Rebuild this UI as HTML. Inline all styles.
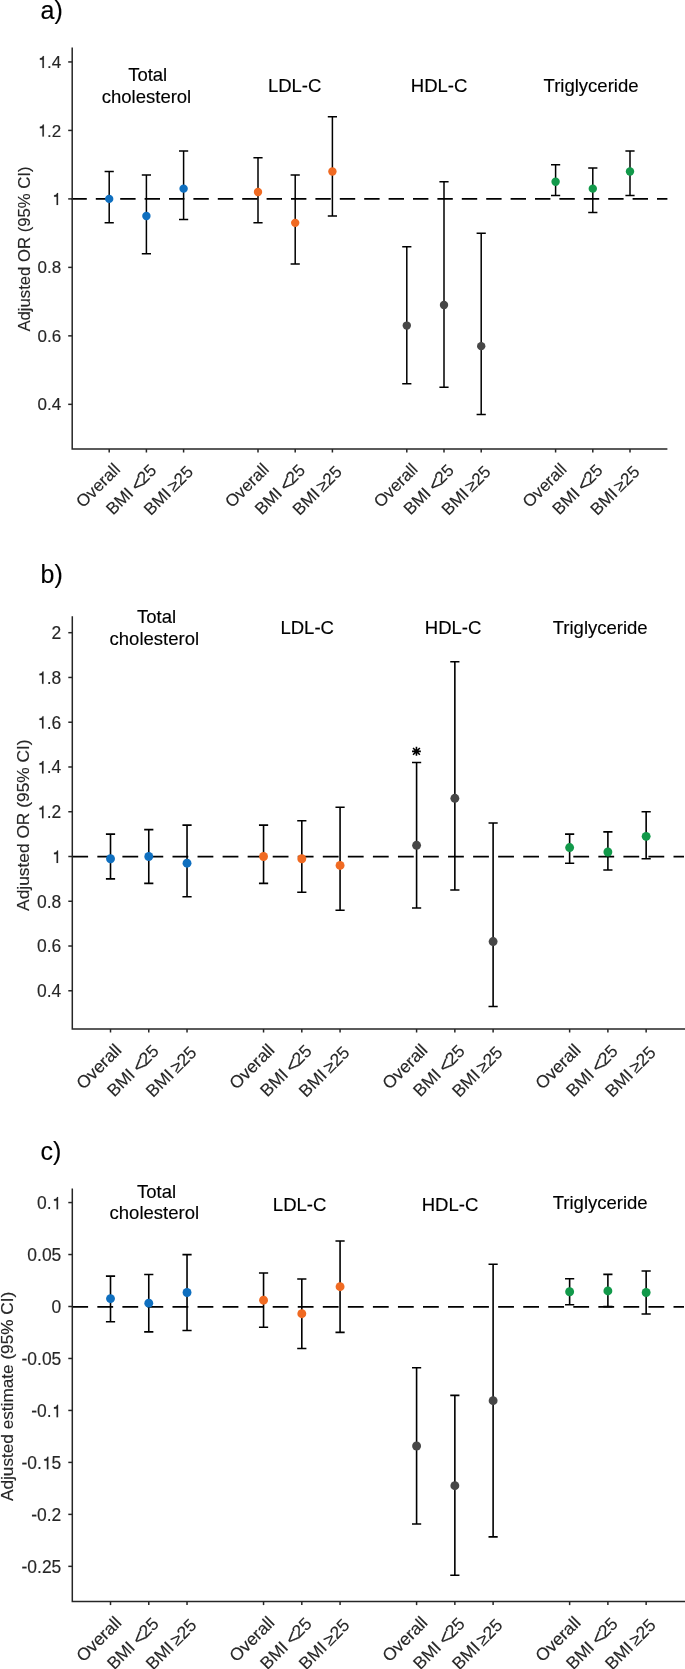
<!DOCTYPE html>
<html><head><meta charset="utf-8"><style>
html,body{margin:0;padding:0;background:#fff;}
body{width:685px;height:1669px;overflow:hidden;}
svg{display:block;will-change:transform;}
text{font-family:"Liberation Sans", sans-serif;}
.tl{font-size:17px;fill:#262626;stroke:#262626;stroke-width:0.15px;font-kerning:none;}
.xl{font-size:17px;fill:#262626;stroke:#262626;stroke-width:0.15px;}
.gl{font-size:18.5px;fill:#000;stroke:#000;stroke-width:0.15px;}
.yl{font-size:16.7px;fill:#262626;stroke:#262626;stroke-width:0.15px;}
.let{font-size:25px;fill:#000;stroke:#000;stroke-width:0.15px;}
</style></head><body>
<svg width="685" height="1669" viewBox="0 0 685 1669">
<line x1="71.4" y1="198.90" x2="667.4" y2="198.90" stroke="#000" stroke-width="1.75" stroke-dasharray="15.4 9.0"/>
<path d="M72.2 47.4 V449 H667.4" fill="none" stroke="#262626" stroke-width="1.5"/>
<line x1="68.2" y1="404.34" x2="72.2" y2="404.34" stroke="#262626" stroke-width="1.5"/>
<text x="61.2" y="410.44" text-anchor="end" class="tl" style="font-size:17px">0.4</text>
<line x1="68.2" y1="335.86" x2="72.2" y2="335.86" stroke="#262626" stroke-width="1.5"/>
<text x="61.2" y="341.96" text-anchor="end" class="tl" style="font-size:17px">0.6</text>
<line x1="68.2" y1="267.38" x2="72.2" y2="267.38" stroke="#262626" stroke-width="1.5"/>
<text x="61.2" y="273.48" text-anchor="end" class="tl" style="font-size:17px">0.8</text>
<line x1="68.2" y1="198.90" x2="72.2" y2="198.90" stroke="#262626" stroke-width="1.5"/>
<path transform="translate(51.75,205.00) scale(0.01700,-0.01700)" d="M372 0L372 709L313 709C300 655 275 622 240 604C210 590 175 583 135 580L135 490L284 490L284 0Z" fill="#262626" stroke="#262626" stroke-width="0.15" vector-effect="non-scaling-stroke"/>
<text x="61.2" y="205.00" text-anchor="end" class="tl" style="font-size:17px"><tspan style="fill:none;stroke:none">1</tspan></text>
<line x1="68.2" y1="130.42" x2="72.2" y2="130.42" stroke="#262626" stroke-width="1.5"/>
<path transform="translate(37.57,136.52) scale(0.01700,-0.01700)" d="M372 0L372 709L313 709C300 655 275 622 240 604C210 590 175 583 135 580L135 490L284 490L284 0Z" fill="#262626" stroke="#262626" stroke-width="0.15" vector-effect="non-scaling-stroke"/>
<text x="61.2" y="136.52" text-anchor="end" class="tl" style="font-size:17px"><tspan style="fill:none;stroke:none">1</tspan>.2</text>
<line x1="68.2" y1="61.94" x2="72.2" y2="61.94" stroke="#262626" stroke-width="1.5"/>
<path transform="translate(37.57,68.04) scale(0.01700,-0.01700)" d="M372 0L372 709L313 709C300 655 275 622 240 604C210 590 175 583 135 580L135 490L284 490L284 0Z" fill="#262626" stroke="#262626" stroke-width="0.15" vector-effect="non-scaling-stroke"/>
<text x="61.2" y="68.04" text-anchor="end" class="tl" style="font-size:17px"><tspan style="fill:none;stroke:none">1</tspan>.4</text>
<line x1="109.20" y1="449" x2="109.20" y2="452.5" stroke="#262626" stroke-width="1.5"/>
<text transform="translate(121.20,470.40) rotate(-45)" text-anchor="end" class="xl" style="font-size:17px">Overall</text>
<line x1="146.40" y1="449" x2="146.40" y2="452.5" stroke="#262626" stroke-width="1.5"/>
<text transform="translate(157.40,471.40) rotate(-45)" text-anchor="end" class="xl" style="font-size:17px">BMI <tspan dx="-0.91" dy="1.6" style="font-size:1.147em">&lt;</tspan><tspan dx="-1.49" dy="-1.6">25</tspan></text>
<line x1="183.60" y1="449" x2="183.60" y2="452.5" stroke="#262626" stroke-width="1.5"/>
<text transform="translate(194.20,472.80) rotate(-45)" text-anchor="end" class="xl" style="font-size:17px">BMI <tspan dx="-1.8">≥</tspan>25</text>
<line x1="258.00" y1="449" x2="258.00" y2="452.5" stroke="#262626" stroke-width="1.5"/>
<text transform="translate(270.00,470.40) rotate(-45)" text-anchor="end" class="xl" style="font-size:17px">Overall</text>
<line x1="295.20" y1="449" x2="295.20" y2="452.5" stroke="#262626" stroke-width="1.5"/>
<text transform="translate(306.20,471.40) rotate(-45)" text-anchor="end" class="xl" style="font-size:17px">BMI <tspan dx="-0.91" dy="1.6" style="font-size:1.147em">&lt;</tspan><tspan dx="-1.49" dy="-1.6">25</tspan></text>
<line x1="332.40" y1="449" x2="332.40" y2="452.5" stroke="#262626" stroke-width="1.5"/>
<text transform="translate(343.00,472.80) rotate(-45)" text-anchor="end" class="xl" style="font-size:17px">BMI <tspan dx="-1.8">≥</tspan>25</text>
<line x1="406.80" y1="449" x2="406.80" y2="452.5" stroke="#262626" stroke-width="1.5"/>
<text transform="translate(418.80,470.40) rotate(-45)" text-anchor="end" class="xl" style="font-size:17px">Overall</text>
<line x1="444.00" y1="449" x2="444.00" y2="452.5" stroke="#262626" stroke-width="1.5"/>
<text transform="translate(455.00,471.40) rotate(-45)" text-anchor="end" class="xl" style="font-size:17px">BMI <tspan dx="-0.91" dy="1.6" style="font-size:1.147em">&lt;</tspan><tspan dx="-1.49" dy="-1.6">25</tspan></text>
<line x1="481.20" y1="449" x2="481.20" y2="452.5" stroke="#262626" stroke-width="1.5"/>
<text transform="translate(491.80,472.80) rotate(-45)" text-anchor="end" class="xl" style="font-size:17px">BMI <tspan dx="-1.8">≥</tspan>25</text>
<line x1="555.60" y1="449" x2="555.60" y2="452.5" stroke="#262626" stroke-width="1.5"/>
<text transform="translate(567.60,470.40) rotate(-45)" text-anchor="end" class="xl" style="font-size:17px">Overall</text>
<line x1="592.80" y1="449" x2="592.80" y2="452.5" stroke="#262626" stroke-width="1.5"/>
<text transform="translate(603.80,471.40) rotate(-45)" text-anchor="end" class="xl" style="font-size:17px">BMI <tspan dx="-0.91" dy="1.6" style="font-size:1.147em">&lt;</tspan><tspan dx="-1.49" dy="-1.6">25</tspan></text>
<line x1="630.00" y1="449" x2="630.00" y2="452.5" stroke="#262626" stroke-width="1.5"/>
<text transform="translate(640.60,472.80) rotate(-45)" text-anchor="end" class="xl" style="font-size:17px">BMI <tspan dx="-1.8">≥</tspan>25</text>
<text x="147.70" y="81.00" text-anchor="middle" class="gl">Total</text>
<text x="146.50" y="102.60" text-anchor="middle" class="gl">cholesterol</text>
<text x="294.65" y="92.30" text-anchor="middle" class="gl">LDL-C</text>
<text x="439.10" y="92.00" text-anchor="middle" class="gl">HDL-C</text>
<text x="591.05" y="91.60" text-anchor="middle" class="gl">Triglyceride</text>
<path d="M109.20 171.51 V222.87 M104.60 171.51 H113.80 M104.60 222.87 H113.80" stroke="#000" stroke-width="1.5" fill="none"/>
<circle cx="109.20" cy="198.90" r="4.2" fill="#0f6fbf"/>
<path d="M146.40 174.93 V253.68 M141.80 174.93 H151.00 M141.80 253.68 H151.00" stroke="#000" stroke-width="1.5" fill="none"/>
<circle cx="146.40" cy="216.02" r="4.2" fill="#0f6fbf"/>
<path d="M183.60 150.96 V219.44 M179.00 150.96 H188.20 M179.00 219.44 H188.20" stroke="#000" stroke-width="1.5" fill="none"/>
<circle cx="183.60" cy="188.63" r="4.2" fill="#0f6fbf"/>
<path d="M258.00 157.81 V222.87 M253.40 157.81 H262.60 M253.40 222.87 H262.60" stroke="#000" stroke-width="1.5" fill="none"/>
<circle cx="258.00" cy="192.05" r="4.2" fill="#f06a22"/>
<path d="M295.20 174.93 V263.96 M290.60 174.93 H299.80 M290.60 263.96 H299.80" stroke="#000" stroke-width="1.5" fill="none"/>
<circle cx="295.20" cy="222.87" r="4.2" fill="#f06a22"/>
<path d="M332.40 116.72 V216.02 M327.80 116.72 H337.00 M327.80 216.02 H337.00" stroke="#000" stroke-width="1.5" fill="none"/>
<circle cx="332.40" cy="171.51" r="4.2" fill="#f06a22"/>
<path d="M406.80 246.84 V383.80 M402.20 246.84 H411.40 M402.20 383.80 H411.40" stroke="#000" stroke-width="1.5" fill="none"/>
<circle cx="406.80" cy="325.59" r="4.2" fill="#474747"/>
<path d="M444.00 181.78 V387.22 M439.40 181.78 H448.60 M439.40 387.22 H448.60" stroke="#000" stroke-width="1.5" fill="none"/>
<circle cx="444.00" cy="305.04" r="4.2" fill="#474747"/>
<path d="M481.20 233.14 V414.61 M476.60 233.14 H485.80 M476.60 414.61 H485.80" stroke="#000" stroke-width="1.5" fill="none"/>
<circle cx="481.20" cy="346.13" r="4.2" fill="#474747"/>
<path d="M555.60 164.66 V195.48 M551.00 164.66 H560.20 M551.00 195.48 H560.20" stroke="#000" stroke-width="1.5" fill="none"/>
<circle cx="555.60" cy="181.78" r="4.2" fill="#12994a"/>
<path d="M592.80 168.08 V212.60 M588.20 168.08 H597.40 M588.20 212.60 H597.40" stroke="#000" stroke-width="1.5" fill="none"/>
<circle cx="592.80" cy="188.63" r="4.2" fill="#12994a"/>
<path d="M630.00 150.96 V195.48 M625.40 150.96 H634.60 M625.40 195.48 H634.60" stroke="#000" stroke-width="1.5" fill="none"/>
<circle cx="630.00" cy="171.51" r="4.2" fill="#12994a"/>
<text transform="translate(30.3,249.00) rotate(-90)" text-anchor="middle" class="yl" style="font-size:16.7px">Adjusted OR (95% CI)</text>
<text x="40.6" y="18.5" class="let">a)</text>
<line x1="72.3" y1="856.50" x2="684" y2="856.50" stroke="#000" stroke-width="1.75" stroke-dasharray="15.8 9.25"/>
<path d="M72.3 616.2 V1029.0 H686" fill="none" stroke="#262626" stroke-width="1.5"/>
<line x1="68.3" y1="990.78" x2="72.3" y2="990.78" stroke="#262626" stroke-width="1.5"/>
<text x="61.3" y="997.18" text-anchor="end" class="tl" style="font-size:17.45px">0.4</text>
<line x1="68.3" y1="946.02" x2="72.3" y2="946.02" stroke="#262626" stroke-width="1.5"/>
<text x="61.3" y="952.42" text-anchor="end" class="tl" style="font-size:17.45px">0.6</text>
<line x1="68.3" y1="901.26" x2="72.3" y2="901.26" stroke="#262626" stroke-width="1.5"/>
<text x="61.3" y="907.66" text-anchor="end" class="tl" style="font-size:17.45px">0.8</text>
<line x1="68.3" y1="856.50" x2="72.3" y2="856.50" stroke="#262626" stroke-width="1.5"/>
<path transform="translate(51.60,862.90) scale(0.01745,-0.01745)" d="M372 0L372 709L313 709C300 655 275 622 240 604C210 590 175 583 135 580L135 490L284 490L284 0Z" fill="#262626" stroke="#262626" stroke-width="0.15" vector-effect="non-scaling-stroke"/>
<text x="61.3" y="862.90" text-anchor="end" class="tl" style="font-size:17.45px"><tspan style="fill:none;stroke:none">1</tspan></text>
<line x1="68.3" y1="811.74" x2="72.3" y2="811.74" stroke="#262626" stroke-width="1.5"/>
<path transform="translate(37.04,818.14) scale(0.01745,-0.01745)" d="M372 0L372 709L313 709C300 655 275 622 240 604C210 590 175 583 135 580L135 490L284 490L284 0Z" fill="#262626" stroke="#262626" stroke-width="0.15" vector-effect="non-scaling-stroke"/>
<text x="61.3" y="818.14" text-anchor="end" class="tl" style="font-size:17.45px"><tspan style="fill:none;stroke:none">1</tspan>.2</text>
<line x1="68.3" y1="766.98" x2="72.3" y2="766.98" stroke="#262626" stroke-width="1.5"/>
<path transform="translate(37.04,773.38) scale(0.01745,-0.01745)" d="M372 0L372 709L313 709C300 655 275 622 240 604C210 590 175 583 135 580L135 490L284 490L284 0Z" fill="#262626" stroke="#262626" stroke-width="0.15" vector-effect="non-scaling-stroke"/>
<text x="61.3" y="773.38" text-anchor="end" class="tl" style="font-size:17.45px"><tspan style="fill:none;stroke:none">1</tspan>.4</text>
<line x1="68.3" y1="722.22" x2="72.3" y2="722.22" stroke="#262626" stroke-width="1.5"/>
<path transform="translate(37.04,728.62) scale(0.01745,-0.01745)" d="M372 0L372 709L313 709C300 655 275 622 240 604C210 590 175 583 135 580L135 490L284 490L284 0Z" fill="#262626" stroke="#262626" stroke-width="0.15" vector-effect="non-scaling-stroke"/>
<text x="61.3" y="728.62" text-anchor="end" class="tl" style="font-size:17.45px"><tspan style="fill:none;stroke:none">1</tspan>.6</text>
<line x1="68.3" y1="677.46" x2="72.3" y2="677.46" stroke="#262626" stroke-width="1.5"/>
<path transform="translate(37.04,683.86) scale(0.01745,-0.01745)" d="M372 0L372 709L313 709C300 655 275 622 240 604C210 590 175 583 135 580L135 490L284 490L284 0Z" fill="#262626" stroke="#262626" stroke-width="0.15" vector-effect="non-scaling-stroke"/>
<text x="61.3" y="683.86" text-anchor="end" class="tl" style="font-size:17.45px"><tspan style="fill:none;stroke:none">1</tspan>.8</text>
<line x1="68.3" y1="632.70" x2="72.3" y2="632.70" stroke="#262626" stroke-width="1.5"/>
<text x="61.3" y="639.10" text-anchor="end" class="tl" style="font-size:17.45px">2</text>
<line x1="110.51" y1="1029.0" x2="110.51" y2="1032.5" stroke="#262626" stroke-width="1.5"/>
<text transform="translate(122.51,1051.20) rotate(-45)" text-anchor="end" class="xl" style="font-size:17.45px">Overall</text>
<line x1="148.77" y1="1029.0" x2="148.77" y2="1032.5" stroke="#262626" stroke-width="1.5"/>
<text transform="translate(159.77,1052.20) rotate(-45)" text-anchor="end" class="xl" style="font-size:17.45px">BMI <tspan dx="-0.91" dy="1.6" style="font-size:1.147em">&lt;</tspan><tspan dx="-1.49" dy="-1.6">25</tspan></text>
<line x1="187.03" y1="1029.0" x2="187.03" y2="1032.5" stroke="#262626" stroke-width="1.5"/>
<text transform="translate(197.63,1053.60) rotate(-45)" text-anchor="end" class="xl" style="font-size:17.45px">BMI <tspan dx="-1.8">≥</tspan>25</text>
<line x1="263.55" y1="1029.0" x2="263.55" y2="1032.5" stroke="#262626" stroke-width="1.5"/>
<text transform="translate(275.55,1051.20) rotate(-45)" text-anchor="end" class="xl" style="font-size:17.45px">Overall</text>
<line x1="301.81" y1="1029.0" x2="301.81" y2="1032.5" stroke="#262626" stroke-width="1.5"/>
<text transform="translate(312.81,1052.20) rotate(-45)" text-anchor="end" class="xl" style="font-size:17.45px">BMI <tspan dx="-0.91" dy="1.6" style="font-size:1.147em">&lt;</tspan><tspan dx="-1.49" dy="-1.6">25</tspan></text>
<line x1="340.07" y1="1029.0" x2="340.07" y2="1032.5" stroke="#262626" stroke-width="1.5"/>
<text transform="translate(350.67,1053.60) rotate(-45)" text-anchor="end" class="xl" style="font-size:17.45px">BMI <tspan dx="-1.8">≥</tspan>25</text>
<line x1="416.59" y1="1029.0" x2="416.59" y2="1032.5" stroke="#262626" stroke-width="1.5"/>
<text transform="translate(428.59,1051.20) rotate(-45)" text-anchor="end" class="xl" style="font-size:17.45px">Overall</text>
<line x1="454.85" y1="1029.0" x2="454.85" y2="1032.5" stroke="#262626" stroke-width="1.5"/>
<text transform="translate(465.85,1052.20) rotate(-45)" text-anchor="end" class="xl" style="font-size:17.45px">BMI <tspan dx="-0.91" dy="1.6" style="font-size:1.147em">&lt;</tspan><tspan dx="-1.49" dy="-1.6">25</tspan></text>
<line x1="493.11" y1="1029.0" x2="493.11" y2="1032.5" stroke="#262626" stroke-width="1.5"/>
<text transform="translate(503.71,1053.60) rotate(-45)" text-anchor="end" class="xl" style="font-size:17.45px">BMI <tspan dx="-1.8">≥</tspan>25</text>
<line x1="569.63" y1="1029.0" x2="569.63" y2="1032.5" stroke="#262626" stroke-width="1.5"/>
<text transform="translate(581.63,1051.20) rotate(-45)" text-anchor="end" class="xl" style="font-size:17.45px">Overall</text>
<line x1="607.89" y1="1029.0" x2="607.89" y2="1032.5" stroke="#262626" stroke-width="1.5"/>
<text transform="translate(618.89,1052.20) rotate(-45)" text-anchor="end" class="xl" style="font-size:17.45px">BMI <tspan dx="-0.91" dy="1.6" style="font-size:1.147em">&lt;</tspan><tspan dx="-1.49" dy="-1.6">25</tspan></text>
<line x1="646.15" y1="1029.0" x2="646.15" y2="1032.5" stroke="#262626" stroke-width="1.5"/>
<text transform="translate(656.75,1053.60) rotate(-45)" text-anchor="end" class="xl" style="font-size:17.45px">BMI <tspan dx="-1.8">≥</tspan>25</text>
<text x="156.50" y="622.80" text-anchor="middle" class="gl">Total</text>
<text x="154.30" y="644.80" text-anchor="middle" class="gl">cholesterol</text>
<text x="307.20" y="633.80" text-anchor="middle" class="gl">LDL-C</text>
<text x="453.05" y="633.80" text-anchor="middle" class="gl">HDL-C</text>
<text x="600.20" y="633.70" text-anchor="middle" class="gl">Triglyceride</text>
<path d="M110.51 834.12 V878.88 M105.91 834.12 H115.11 M105.91 878.88 H115.11" stroke="#000" stroke-width="1.6" fill="none"/>
<circle cx="110.51" cy="858.74" r="4.45" fill="#0f6fbf"/>
<path d="M148.77 829.64 V883.36 M144.17 829.64 H153.37 M144.17 883.36 H153.37" stroke="#000" stroke-width="1.6" fill="none"/>
<circle cx="148.77" cy="856.50" r="4.45" fill="#0f6fbf"/>
<path d="M187.03 825.17 V896.78 M182.43 825.17 H191.63 M182.43 896.78 H191.63" stroke="#000" stroke-width="1.6" fill="none"/>
<circle cx="187.03" cy="863.21" r="4.45" fill="#0f6fbf"/>
<path d="M263.55 825.17 V883.36 M258.95 825.17 H268.15 M258.95 883.36 H268.15" stroke="#000" stroke-width="1.6" fill="none"/>
<circle cx="263.55" cy="856.50" r="4.45" fill="#f06a22"/>
<path d="M301.81 820.69 V892.31 M297.21 820.69 H306.41 M297.21 892.31 H306.41" stroke="#000" stroke-width="1.6" fill="none"/>
<circle cx="301.81" cy="858.74" r="4.45" fill="#f06a22"/>
<path d="M340.07 807.26 V910.21 M335.47 807.26 H344.67 M335.47 910.21 H344.67" stroke="#000" stroke-width="1.6" fill="none"/>
<circle cx="340.07" cy="865.45" r="4.45" fill="#f06a22"/>
<path d="M416.59 762.50 V907.97 M411.99 762.50 H421.19 M411.99 907.97 H421.19" stroke="#000" stroke-width="1.6" fill="none"/>
<circle cx="416.59" cy="845.31" r="4.45" fill="#474747"/>
<path d="M454.85 661.79 V890.07 M450.25 661.79 H459.45 M450.25 890.07 H459.45" stroke="#000" stroke-width="1.6" fill="none"/>
<circle cx="454.85" cy="798.31" r="4.45" fill="#474747"/>
<path d="M493.11 822.93 V1006.45 M488.51 822.93 H497.71 M488.51 1006.45 H497.71" stroke="#000" stroke-width="1.6" fill="none"/>
<circle cx="493.11" cy="941.54" r="4.45" fill="#474747"/>
<path d="M569.63 834.12 V863.21 M565.03 834.12 H574.23 M565.03 863.21 H574.23" stroke="#000" stroke-width="1.6" fill="none"/>
<circle cx="569.63" cy="847.55" r="4.45" fill="#12994a"/>
<path d="M607.89 831.88 V869.93 M603.29 831.88 H612.49 M603.29 869.93 H612.49" stroke="#000" stroke-width="1.6" fill="none"/>
<circle cx="607.89" cy="852.02" r="4.45" fill="#12994a"/>
<path d="M646.15 811.74 V858.74 M641.55 811.74 H650.75 M641.55 858.74 H650.75" stroke="#000" stroke-width="1.6" fill="none"/>
<circle cx="646.15" cy="836.36" r="4.45" fill="#12994a"/>
<text transform="translate(28.8,825.15) rotate(-90)" text-anchor="middle" class="yl" style="font-size:17.35px">Adjusted OR (95% CI)</text>
<text x="40.6" y="582.6" class="let">b)</text>
<line x1="72.3" y1="1306.85" x2="684" y2="1306.85" stroke="#000" stroke-width="1.75" stroke-dasharray="15.8 9.25"/>
<path d="M72.3 1188.6 V1601.6 H686" fill="none" stroke="#262626" stroke-width="1.5"/>
<line x1="68.3" y1="1202.56" x2="72.3" y2="1202.56" stroke="#262626" stroke-width="1.5"/>
<path transform="translate(51.60,1209.36) scale(0.01745,-0.01745)" d="M372 0L372 709L313 709C300 655 275 622 240 604C210 590 175 583 135 580L135 490L284 490L284 0Z" fill="#262626" stroke="#262626" stroke-width="0.15" vector-effect="non-scaling-stroke"/>
<text x="61.3" y="1209.36" text-anchor="end" class="tl" style="font-size:17.45px">0.<tspan style="fill:none;stroke:none">1</tspan></text>
<line x1="68.3" y1="1254.53" x2="72.3" y2="1254.53" stroke="#262626" stroke-width="1.5"/>
<text x="61.3" y="1261.33" text-anchor="end" class="tl" style="font-size:17.45px">0.05</text>
<line x1="68.3" y1="1306.50" x2="72.3" y2="1306.50" stroke="#262626" stroke-width="1.5"/>
<text x="61.3" y="1313.30" text-anchor="end" class="tl" style="font-size:17.45px">0</text>
<line x1="68.3" y1="1358.47" x2="72.3" y2="1358.47" stroke="#262626" stroke-width="1.5"/>
<text x="61.3" y="1365.27" text-anchor="end" class="tl" style="font-size:17.45px">-0.05</text>
<line x1="68.3" y1="1410.44" x2="72.3" y2="1410.44" stroke="#262626" stroke-width="1.5"/>
<path transform="translate(51.60,1417.24) scale(0.01745,-0.01745)" d="M372 0L372 709L313 709C300 655 275 622 240 604C210 590 175 583 135 580L135 490L284 490L284 0Z" fill="#262626" stroke="#262626" stroke-width="0.15" vector-effect="non-scaling-stroke"/>
<text x="61.3" y="1417.24" text-anchor="end" class="tl" style="font-size:17.45px">-0.<tspan style="fill:none;stroke:none">1</tspan></text>
<line x1="68.3" y1="1462.41" x2="72.3" y2="1462.41" stroke="#262626" stroke-width="1.5"/>
<path transform="translate(41.90,1469.21) scale(0.01745,-0.01745)" d="M372 0L372 709L313 709C300 655 275 622 240 604C210 590 175 583 135 580L135 490L284 490L284 0Z" fill="#262626" stroke="#262626" stroke-width="0.15" vector-effect="non-scaling-stroke"/>
<text x="61.3" y="1469.21" text-anchor="end" class="tl" style="font-size:17.45px">-0.<tspan style="fill:none;stroke:none">1</tspan>5</text>
<line x1="68.3" y1="1514.38" x2="72.3" y2="1514.38" stroke="#262626" stroke-width="1.5"/>
<text x="61.3" y="1521.18" text-anchor="end" class="tl" style="font-size:17.45px">-0.2</text>
<line x1="68.3" y1="1566.35" x2="72.3" y2="1566.35" stroke="#262626" stroke-width="1.5"/>
<text x="61.3" y="1573.15" text-anchor="end" class="tl" style="font-size:17.45px">-0.25</text>
<line x1="110.51" y1="1601.6" x2="110.51" y2="1605.1" stroke="#262626" stroke-width="1.5"/>
<text transform="translate(122.51,1623.80) rotate(-45)" text-anchor="end" class="xl" style="font-size:17.45px">Overall</text>
<line x1="148.77" y1="1601.6" x2="148.77" y2="1605.1" stroke="#262626" stroke-width="1.5"/>
<text transform="translate(159.77,1624.80) rotate(-45)" text-anchor="end" class="xl" style="font-size:17.45px">BMI <tspan dx="-0.91" dy="1.6" style="font-size:1.147em">&lt;</tspan><tspan dx="-1.49" dy="-1.6">25</tspan></text>
<line x1="187.03" y1="1601.6" x2="187.03" y2="1605.1" stroke="#262626" stroke-width="1.5"/>
<text transform="translate(197.63,1626.20) rotate(-45)" text-anchor="end" class="xl" style="font-size:17.45px">BMI <tspan dx="-1.8">≥</tspan>25</text>
<line x1="263.55" y1="1601.6" x2="263.55" y2="1605.1" stroke="#262626" stroke-width="1.5"/>
<text transform="translate(275.55,1623.80) rotate(-45)" text-anchor="end" class="xl" style="font-size:17.45px">Overall</text>
<line x1="301.81" y1="1601.6" x2="301.81" y2="1605.1" stroke="#262626" stroke-width="1.5"/>
<text transform="translate(312.81,1624.80) rotate(-45)" text-anchor="end" class="xl" style="font-size:17.45px">BMI <tspan dx="-0.91" dy="1.6" style="font-size:1.147em">&lt;</tspan><tspan dx="-1.49" dy="-1.6">25</tspan></text>
<line x1="340.07" y1="1601.6" x2="340.07" y2="1605.1" stroke="#262626" stroke-width="1.5"/>
<text transform="translate(350.67,1626.20) rotate(-45)" text-anchor="end" class="xl" style="font-size:17.45px">BMI <tspan dx="-1.8">≥</tspan>25</text>
<line x1="416.59" y1="1601.6" x2="416.59" y2="1605.1" stroke="#262626" stroke-width="1.5"/>
<text transform="translate(428.59,1623.80) rotate(-45)" text-anchor="end" class="xl" style="font-size:17.45px">Overall</text>
<line x1="454.85" y1="1601.6" x2="454.85" y2="1605.1" stroke="#262626" stroke-width="1.5"/>
<text transform="translate(465.85,1624.80) rotate(-45)" text-anchor="end" class="xl" style="font-size:17.45px">BMI <tspan dx="-0.91" dy="1.6" style="font-size:1.147em">&lt;</tspan><tspan dx="-1.49" dy="-1.6">25</tspan></text>
<line x1="493.11" y1="1601.6" x2="493.11" y2="1605.1" stroke="#262626" stroke-width="1.5"/>
<text transform="translate(503.71,1626.20) rotate(-45)" text-anchor="end" class="xl" style="font-size:17.45px">BMI <tspan dx="-1.8">≥</tspan>25</text>
<line x1="569.63" y1="1601.6" x2="569.63" y2="1605.1" stroke="#262626" stroke-width="1.5"/>
<text transform="translate(581.63,1623.80) rotate(-45)" text-anchor="end" class="xl" style="font-size:17.45px">Overall</text>
<line x1="607.89" y1="1601.6" x2="607.89" y2="1605.1" stroke="#262626" stroke-width="1.5"/>
<text transform="translate(618.89,1624.80) rotate(-45)" text-anchor="end" class="xl" style="font-size:17.45px">BMI <tspan dx="-0.91" dy="1.6" style="font-size:1.147em">&lt;</tspan><tspan dx="-1.49" dy="-1.6">25</tspan></text>
<line x1="646.15" y1="1601.6" x2="646.15" y2="1605.1" stroke="#262626" stroke-width="1.5"/>
<text transform="translate(656.75,1626.20) rotate(-45)" text-anchor="end" class="xl" style="font-size:17.45px">BMI <tspan dx="-1.8">≥</tspan>25</text>
<text x="156.50" y="1198.00" text-anchor="middle" class="gl">Total</text>
<text x="154.30" y="1219.40" text-anchor="middle" class="gl">cholesterol</text>
<text x="299.60" y="1210.90" text-anchor="middle" class="gl">LDL-C</text>
<text x="450.00" y="1210.60" text-anchor="middle" class="gl">HDL-C</text>
<text x="600.20" y="1208.70" text-anchor="middle" class="gl">Triglyceride</text>
<path d="M110.51 1276.10 V1321.76 M105.91 1276.10 H115.11 M105.91 1321.76 H115.11" stroke="#000" stroke-width="1.6" fill="none"/>
<circle cx="110.51" cy="1298.60" r="4.45" fill="#0f6fbf"/>
<path d="M148.77 1274.55 V1331.90 M144.17 1274.55 H153.37 M144.17 1331.90 H153.37" stroke="#000" stroke-width="1.6" fill="none"/>
<circle cx="148.77" cy="1303.17" r="4.45" fill="#0f6fbf"/>
<path d="M187.03 1254.63 V1330.51 M182.43 1254.63 H191.63 M182.43 1330.51 H191.63" stroke="#000" stroke-width="1.6" fill="none"/>
<circle cx="187.03" cy="1292.50" r="4.45" fill="#0f6fbf"/>
<path d="M263.55 1273.07 V1327.18 M258.95 1273.07 H268.15 M258.95 1327.18 H268.15" stroke="#000" stroke-width="1.6" fill="none"/>
<circle cx="263.55" cy="1300.20" r="4.45" fill="#f06a22"/>
<path d="M301.81 1279.06 V1348.49 M297.21 1279.06 H306.41 M297.21 1348.49 H306.41" stroke="#000" stroke-width="1.6" fill="none"/>
<circle cx="301.81" cy="1313.70" r="4.45" fill="#f06a22"/>
<path d="M340.07 1241.02 V1332.38 M335.47 1241.02 H344.67 M335.47 1332.38 H344.67" stroke="#000" stroke-width="1.6" fill="none"/>
<circle cx="340.07" cy="1286.70" r="4.45" fill="#f06a22"/>
<path d="M416.59 1367.72 V1524.05 M411.99 1367.72 H421.19 M411.99 1524.05 H421.19" stroke="#000" stroke-width="1.6" fill="none"/>
<circle cx="416.59" cy="1445.99" r="4.45" fill="#474747"/>
<path d="M454.85 1395.37 V1575.29 M450.25 1395.37 H459.45 M450.25 1575.29 H459.45" stroke="#000" stroke-width="1.6" fill="none"/>
<circle cx="454.85" cy="1485.69" r="4.45" fill="#474747"/>
<path d="M493.11 1264.30 V1536.83 M488.51 1264.30 H497.71 M488.51 1536.83 H497.71" stroke="#000" stroke-width="1.6" fill="none"/>
<circle cx="493.11" cy="1400.67" r="4.45" fill="#474747"/>
<path d="M569.63 1278.75 V1304.73 M565.03 1278.75 H574.23 M565.03 1304.73 H574.23" stroke="#000" stroke-width="1.6" fill="none"/>
<circle cx="569.63" cy="1291.74" r="4.45" fill="#12994a"/>
<path d="M607.89 1274.38 V1306.60 M603.29 1274.38 H612.49 M603.29 1306.60 H612.49" stroke="#000" stroke-width="1.6" fill="none"/>
<circle cx="607.89" cy="1290.96" r="4.45" fill="#12994a"/>
<path d="M646.15 1271.06 V1313.95 M641.55 1271.06 H650.75 M641.55 1313.95 H650.75" stroke="#000" stroke-width="1.6" fill="none"/>
<circle cx="646.15" cy="1292.50" r="4.45" fill="#12994a"/>
<text transform="translate(12.9,1396.40) rotate(-90)" text-anchor="middle" class="yl" style="font-size:17.2px">Adjusted estimate (95% CI)</text>
<text x="40.6" y="1159.6" class="let">c)</text>
<path d="M412.05 751.35H420.84999999999997M416.45 746.75V755.75M413.05 747.95L419.84999999999997 754.75M413.05 754.75L419.84999999999997 747.95" stroke="#000" stroke-width="1.6" fill="none"/>
</svg>
</body></html>
